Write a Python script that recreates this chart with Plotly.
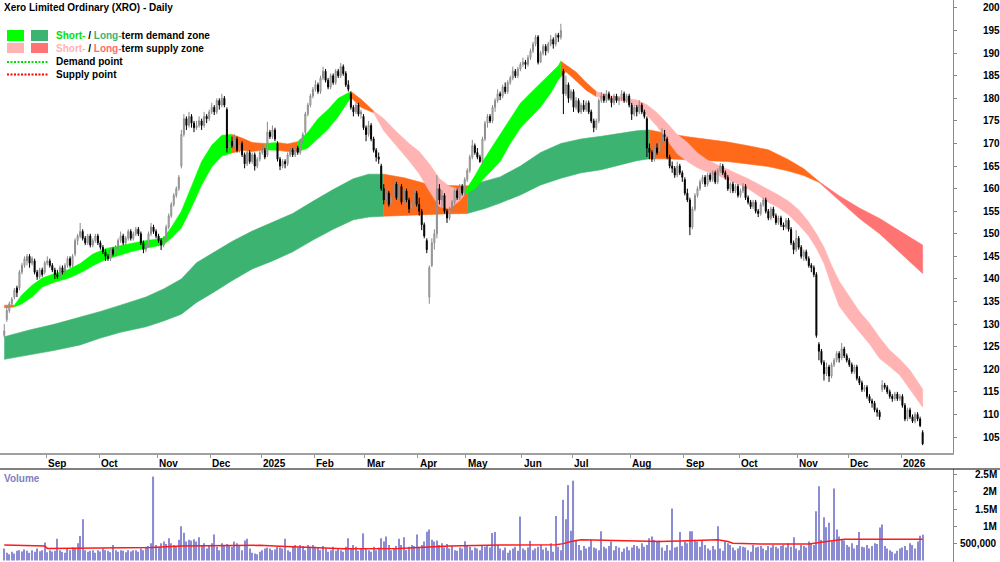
import pandas as pd
import plotly.graph_objects as go

FONT = "Liberation Sans, Arial, sans-serif"
W, H = 1000, 562
R_MARGIN = 47
PW = W - R_MARGIN


def px_x(px):
    return px / PW


def px_y(py):
    return 1 - py / H


TITLE = "Xero Limited Ordinary (XRO) - Daily"

# ---------------- data ----------------
first_session = "2024-08-08"
last_session = "2026-01-14"
asx_holidays = ["2024-12-25", "2024-12-26", "2025-01-01", "2025-01-27", "2025-04-18",
                "2025-04-21", "2025-04-25", "2025-06-09", "2025-12-25", "2025-12-26", "2026-01-01"]

opens = [
    127.5, 131, 133, 134.5, 136, 138, 138, 141.5, 143, 144,
    145, 143.5, 144, 141.5, 140.5, 142, 141.5, 143.5, 144, 143,
    142, 141, 140.5, 142.5, 141.5, 143, 144.5, 143, 145.5, 148.5,
    149.5, 150.5, 149, 148, 149.5, 147.5, 148.5, 149.5, 148, 147,
    146, 145, 144.5, 146.5, 145.5, 147, 148.5, 149.5, 148, 149,
    150.5, 149, 150, 151, 150, 148, 146.5, 147.5, 150, 151.5,
    150.5, 149.5, 148.5, 147.5, 149, 151.5, 154, 156.5, 158.5, 160,
    165, 172, 175.5, 174, 176, 174.5, 173.5, 174, 175, 174,
    176, 175.5, 177, 178, 177, 179.5, 178.5, 180, 177.5, 169,
    170.5, 169.5, 171, 168.5, 170, 167.5, 165.5, 168, 166, 167.5,
    165, 166.5, 168, 168.5, 167.5, 172.5, 171.5, 173, 170, 166.5,
    165, 166, 165.5, 167.5, 168.5, 167.5, 169, 168, 170.5, 172.5,
    176.5, 178.5, 180.5, 182, 183, 181.5, 184.5, 186, 184, 182.5,
    185, 183.5, 186, 185, 187, 185.5, 183, 181, 178, 177,
    178.5, 176.5, 176, 173.5, 172, 174, 171, 168.5, 167, 165,
    160, 157.5, 159, 156.5, 158.5, 161, 158, 160.5, 157, 159.5,
    157.5, 155.5, 157, 159, 156.5, 155, 152, 148.5, 136, 143,
    148, 150, 160, 157.5, 158.5, 155, 153.5, 155.5, 157, 159.5,
    158, 160.5, 159, 162, 164, 167, 169.5, 168, 167, 166,
    171, 174.5, 176, 175, 178, 179.5, 181, 180.5, 182.5, 181.5,
    183.5, 184.5, 186, 185, 186.5, 187.5, 188, 187.5, 189, 190.5,
    192, 193.6, 188, 190, 191.5, 190.5, 192, 193, 192, 194,
    193.5, 186, 181, 183, 180, 181.5, 178, 179.5, 177, 178.5,
    177.5, 179, 177, 175, 173.5, 175, 179.5, 180.5, 179.5, 181,
    180, 179, 180.5, 179.5, 180, 181, 179.5, 180.5, 178.5, 176.5,
    178, 177, 178.5, 177, 175.5, 169, 168, 166.5, 169, 168,
    170.5, 172, 171, 167, 165, 164.5, 163, 165, 163.5, 162,
    159, 157.5, 151.5, 155.5, 158.5, 160, 161.5, 162.5, 161, 163,
    162, 163.5, 161.5, 164, 165, 163.5, 162.5, 160, 161, 159.5,
    160.5, 158.5, 159.5, 160.5, 158, 157, 156, 157, 155, 154.5,
    156.5, 157.5, 155, 153.5, 155.5, 154, 152.5, 153.5, 152, 151.5,
    153, 151, 148, 146.5, 149, 147, 145, 146, 144.5, 143,
    142.5, 141, 125.5, 124, 121.5, 119, 120.5, 118.5, 121, 122,
    123.5, 122.5, 124.5, 123, 122, 121, 119.5, 120.5, 118, 117,
    115.5, 116, 114, 113, 112.5, 111, 110.5, 115.5, 116.5, 116,
    115, 114, 113.5, 114.5, 113.5, 114, 112, 109, 111, 109.5,
    108.5, 110, 109, 106]

highs = [
    130, 134, 135, 136, 138, 138.5, 142, 143.5, 145, 145.5,
    145.5, 145, 144.5, 142, 142.5, 142.5, 144, 145, 144.5, 143.5,
    142.5, 142, 143, 143, 143.5, 145, 145, 145.5, 149, 150,
    152.4, 151, 149.5, 150, 150, 149, 150, 150, 148.5, 147.5,
    146.5, 145.5, 147, 147, 147.5, 149, 150.5, 150, 149.5, 151,
    151, 150.5, 151.5, 151.5, 150.5, 148.5, 148, 150.5, 152.4, 152,
    151, 150, 149, 149.5, 152, 154.5, 157, 159, 160.5, 163,
    173, 176.5, 176, 177, 176.5, 175, 175, 176, 175.5, 177,
    176.5, 177.5, 179, 178.5, 180, 180, 181, 180.5, 178, 171,
    171.5, 172, 171.5, 170.5, 170.5, 168, 168.5, 168.5, 168, 168,
    167, 168.5, 169.5, 169, 174.8, 173, 174, 173.5, 170.5, 167,
    166.5, 166.5, 168, 169, 169, 169.5, 169.5, 171, 172.5, 177,
    179, 181, 182.5, 184, 183.5, 185, 187, 186.5, 184.5, 185.5,
    185.5, 186.5, 186.5, 187.8, 187.5, 186, 184, 181.5, 178.5, 179,
    179, 177.5, 176.5, 174, 175, 174.5, 171.5, 169, 168, 165.5,
    161, 160, 159.5, 159, 162.5, 161.5, 161, 161, 160, 160,
    158, 157.5, 159.7, 159.5, 158, 155.5, 152.5, 149, 143, 149,
    151, 163, 161, 159.7, 159, 155.5, 156, 157.5, 160, 160,
    161, 161, 162.5, 164.5, 167.5, 170.8, 170, 169, 167.5, 171.5,
    175, 176.5, 176.5, 178.5, 180, 182, 181.5, 183, 183.5, 184,
    185, 187, 186.5, 187, 188, 189, 188.5, 189.6, 191, 192.5,
    194, 194, 190.5, 192, 192, 192.5, 194, 193.5, 194.5, 194.5,
    196.5, 186.5, 185, 183.5, 182, 182, 180.3, 180, 179, 179.6,
    179.5, 179.5, 177.5, 175.5, 175.5, 180, 181.4, 181, 181.8, 181.5,
    180.5, 181, 181, 180.5, 181.8, 181.5, 181, 181, 179, 178.5,
    178.5, 179.6, 179, 177.5, 176, 170, 168.5, 169.5, 170, 171,
    173.4, 173, 171.5, 167.5, 166, 165, 166, 165.5, 164, 162.5,
    160, 158, 156, 159, 160.5, 162, 163, 163, 163.5, 163.5,
    164, 164, 164.5, 165.7, 165.5, 164, 163, 161.5, 161.5, 161,
    161, 160, 161.2, 161, 158.5, 157.5, 157.5, 157.5, 155.5, 157,
    158, 158, 155.5, 156, 156, 154.5, 154, 154, 152.5, 153.5,
    153.5, 151.5, 148.5, 150.8, 149.5, 147.5, 146.5, 146.5, 145, 143.5,
    143, 141.5, 126, 124.5, 122, 121.5, 121, 121.5, 122.5, 124,
    124, 125.8, 125, 123.5, 122.5, 121.5, 121, 121, 118.5, 117.5,
    116.5, 116.5, 114.5, 113.5, 113, 111.5, 111, 117.6, 117, 116.5,
    115.5, 114.5, 115, 115, 114.5, 114.5, 112.5, 111.5, 111.5, 110,
    110.5, 110.5, 109.5, 106.5]

lows = [
    127, 130.5, 132.5, 134, 135.5, 136, 137.5, 141, 142.5, 143,
    142.5, 143, 141, 139.8, 140, 140.5, 141, 143, 142.5, 141.5,
    140, 140, 140, 141, 141, 142.5, 142.5, 142.5, 145, 147.5,
    149, 148.5, 147.5, 147.5, 147, 147, 148, 147.5, 146.5, 145.5,
    144, 144, 144, 145, 145, 146.5, 148, 147.5, 147.5, 148.5,
    148.5, 148.5, 149.5, 149.5, 147.5, 145.7, 146, 147, 149.5, 150,
    149, 148, 146.4, 147, 148.5, 151, 153.5, 156, 158, 159.5,
    164.5, 171.5, 173, 173.5, 173.5, 172.5, 173, 173.5, 173, 173.5,
    174.5, 175, 176.5, 176.3, 176.5, 177.5, 178, 178, 168, 168,
    169, 169, 168, 168, 167, 164.5, 165, 165.5, 165.5, 164,
    164.5, 166, 167.5, 166.5, 167, 171, 171, 170.5, 166, 164.1,
    164.5, 164.5, 165, 167, 167, 167, 167.5, 167.5, 170, 172,
    176, 178, 180, 181.5, 181, 181, 184, 183.5, 182, 182,
    183, 183, 184.5, 184.5, 185, 182.5, 181.5, 177.5, 176, 176.5,
    176, 175.5, 173, 170.5, 171.5, 170.5, 168, 166, 165.5, 159.5,
    156.5, 157, 156, 156, 158, 157.5, 157.5, 156.5, 156.5, 157,
    154.6, 155, 156.5, 156, 154, 150.8, 149, 145.7, 134.5, 142.6,
    146.5, 149, 156.5, 156, 154.5, 152.4, 153, 155, 156.5, 157.5,
    157.5, 158.5, 158.5, 161.5, 163.5, 166.5, 167.5, 166.5, 165.7, 165.5,
    170.5, 173.5, 174.5, 174.5, 177, 179, 179.6, 180, 181, 181,
    183, 184, 184.5, 184.5, 186, 187, 186.5, 187, 188.5, 190,
    191.5, 187.5, 187.8, 189.5, 189.5, 190, 191.5, 191, 191.5, 192.5,
    193, 176.5, 180.5, 179, 179.5, 177, 177.5, 176.7, 176.5, 177,
    177, 176.5, 174.5, 172.5, 173, 174.5, 179, 179, 179, 179.5,
    178, 178.5, 179, 178.5, 179.5, 179, 179, 178, 175.2, 176,
    176, 176.5, 176.5, 175.5, 167, 166.5, 165.9, 166, 167.5, 167.5,
    170, 170.5, 166.5, 164.5, 163.5, 162.4, 162.5, 163, 161.5, 158.5,
    157, 149.7, 151, 155, 158, 159.5, 161, 160.4, 160.5, 161.5,
    161.5, 161, 161, 163.5, 163, 162, 159.5, 159, 159, 159,
    158, 158, 159, 157.5, 156.5, 155.5, 155.5, 154.5, 153.7, 154,
    156, 154.5, 153, 153, 153.5, 152, 152, 151.5, 150.8, 151,
    150.5, 147.5, 145.5, 146, 146.5, 144.5, 144, 144, 142.5, 141.5,
    140.4, 127, 122, 121, 117.5, 118.5, 117.2, 118, 120.5, 121.5,
    121.5, 122, 122.5, 121.5, 120.5, 119, 119, 117.5, 116.5, 115,
    115, 113.5, 112.5, 111.5, 110.5, 109.5, 108.8, 115, 115.5, 114.5,
    113.5, 112.8, 113, 113, 113, 111.5, 108.5, 108.5, 109, 108.1,
    108, 108.5, 107.2, 103.2]

closes = [
    128.5, 133, 134.5, 135.5, 137.5, 137, 141.5, 143, 144.5, 145,
    143.5, 144.5, 141.5, 140.5, 142, 141, 143.5, 144, 143, 142,
    141, 140.5, 142.5, 141.5, 143, 144.5, 143, 145, 148.5, 149.5,
    150.5, 149, 148, 149.5, 147.5, 148.5, 149.5, 148, 147, 146,
    145, 144.5, 146.5, 145.5, 147, 148.5, 149.5, 148, 149, 150.5,
    149, 150, 151, 150, 148, 146.5, 147.5, 150, 151.5, 150.5,
    149.5, 148.5, 147.5, 149, 151.5, 154, 156.5, 158.5, 160, 162.5,
    172, 175.5, 174, 176, 174.5, 173.5, 174, 175, 174, 176,
    175.5, 177, 178, 177, 179.5, 178.5, 180, 178.5, 169, 170.5,
    169.5, 171, 168.5, 170, 167.5, 165.5, 168, 166, 167.5, 165,
    166.5, 168, 168.5, 167, 172.5, 171.5, 173, 171, 166.5, 165,
    166, 165.5, 167.5, 168.5, 167.5, 169, 168, 170.5, 172, 176.5,
    178.5, 180.5, 182, 183, 181.5, 184.5, 186, 184, 182.5, 185,
    183.5, 186, 185, 187, 185.5, 183, 182, 178, 177, 178.5,
    176.5, 177, 173.5, 172, 174, 171, 168.5, 167, 166.5, 160,
    157.5, 159, 156.5, 158.5, 161, 158, 160.5, 157, 159.5, 157.5,
    155.5, 157, 159, 156.5, 155, 152, 149.5, 146.5, 142.5, 148,
    150, 160, 157.5, 158.5, 155, 153.5, 155.5, 157, 159.5, 158,
    160.5, 159, 162, 164, 167, 169.5, 168, 167, 166, 171,
    174.5, 176, 175, 178, 179.5, 181, 180.5, 182.5, 181.5, 183.5,
    184.5, 186, 185, 186.5, 187.5, 188, 187.5, 189, 190.5, 192,
    193.5, 188, 190, 191.5, 190.5, 192, 193, 192, 194, 193.5,
    195, 181, 183, 180, 181.5, 178, 179.5, 177, 178.5, 177.5,
    179, 177, 175, 173.5, 175, 179.5, 180.5, 179.5, 181, 180,
    179, 180.5, 179.5, 180, 181, 179.5, 180.5, 178.5, 176.5, 178,
    177, 178.5, 177, 176, 169, 168, 166.5, 169, 168, 170.5,
    172, 171.5, 167, 165, 164.5, 163, 165, 163.5, 162.5, 159,
    157.5, 151.5, 155.5, 158.5, 160, 161.5, 162.5, 161, 163, 162,
    163.5, 161.5, 164, 165, 163.5, 162.5, 160, 161, 159.5, 160.5,
    158.5, 159.5, 160.5, 158, 157, 156, 157, 155, 154.5, 156.5,
    157.5, 155, 153.5, 155.5, 154, 152.5, 153.5, 152, 151.5, 153,
    151, 148, 146.5, 149, 147, 145, 146, 144.5, 143, 142.5,
    141, 127.5, 124, 121.5, 119, 120.5, 118.5, 121, 122, 123.5,
    122.5, 124.5, 123, 122, 121, 119.5, 120.5, 118, 117, 115.5,
    116, 114, 113, 112.5, 111, 110.5, 109.5, 116.5, 116, 115,
    114, 113.5, 114.5, 113.5, 114, 112, 109, 111, 109.5, 108.5,
    110, 109, 107.5, 103.5]

volume_m = [
    .35, .22, .18, .25, .2, .28, .3, .26, .32, .28,
    .22, .3, .25, .35, .27, .3, .52, .24, .3, .26,
    .28, .63, .3, .25, .22, .35, .3, .38, .33, .5,
    .71, 1.2, .3, .25, .28, .3, .22, .3, .26, .35,
    .3, .28, .24, .45, .3, .25, .3, .28, .24, .3,
    .26, .3, .3, .25, .35, .3, .4, .42, .5, 2.45,
    .45, .4, .5, .55, .48, .65, .5, .45, .42, .6,
    1.0, .81, .55, .6, .58, .62, .55, .68, .45, .5,
    .35, .42, .5, .76, .4, .3, .5, .42, .48, .45,
    .4, .55, .5, .45, .3, .58, .63, .35, .22, .2,
    .18, .25, .3, .35, .38, .35, .3, .32, .4, .38,
    .35, .63, .3, .25, .4, .45, .38, .45, .42, .3,
    .45, .4, .45, .4, .38, .3, .42, .35, .25, .3,
    .4, .28, .35, .3, .25, .4, .65, .35, .45, .4,
    .28, .35, .79, .35, .3, .25, .4, .3, .38, .65,
    .55, .7, .45, .3, .35, .42, .63, .45, .68, .3,
    .4, .45, .42, .76, .4, .45, .55, .84, .9, .6,
    .55, .58, .45, .5, .38, .48, .35, .42, .3, .28,
    .38, .35, .56, .45, .4, .3, .38, .35, .3, .45,
    .4, .42, .38, .8, .83, .45, .35, .3, .38, .22,
    .3, .35, .4, .28, 1.28, .35, .3, .38, .57, .3,
    .35, .4, .45, .32, .38, .28, .5, .25, 1.3, .4,
    .3, 1.77, 1.2, 2.2, .87, 2.33, .6, .45, .3, .42,
    .35, .4, .6, .38, .35, .3, .85, .4, .35, .42,
    .55, .3, .42, .38, .25, .35, .4, .3, .38, .45,
    .42, .35, .5, .4, .45, .65, .7, .6, .55, .58,
    .38, .28, .45, .3, 1.52, .38, .4, .83, .42, .55,
    .5, .85, .85, .6, .55, .4, .58, .45, .35, .3,
    .42, .32, 1.0, .35, .28, .55, .5, .45, .38, .3,
    .35, .42, .4, .38, .3, .25, .45, .38, .4, .42,
    .35, .3, .42, .38, .45, .4, .35, .42, .45, .38,
    .5, .4, .68, .35, .3, .45, .42, .38, .55, .5,
    .45, 1.44, 2.17, .6, 1.26, .97, 1.1, .55, 2.1, .9,
    .7, .6, .58, .45, .4, .5, .35, .45, .83, .4,
    .38, .45, .35, .42, .5, .48, .96, 1.05, .42, .35,
    .3, .25, .2, .28, .35, .38, .42, .3, .5, .45,
    .35, .55, .72, .75]

# volume moving average (session number, millions)
vol_avg_session = [0, 14, 16, 17, 38, 58, 70, 89, 101, 109,
                   121, 130, 134, 156, 164, 176, 196, 218, 221, 224,
                   228, 243, 259, 267, 282, 286, 288, 299, 318, 328,
                   332, 363]
vol_avg_m = [0.45, 0.43, 0.42, 0.35, 0.36, 0.38, 0.42, 0.44, 0.44, 0.41,
             0.38, 0.37, 0.34, 0.35, 0.38, 0.42, 0.45, 0.46, 0.49, 0.55,
             0.6, 0.57, 0.55, 0.57, 0.6, 0.55, 0.5, 0.48, 0.48, 0.58,
             0.62, 0.62]

# short-term zone (session number, upper edge, lower edge, state D/T/S)
short_session = [0, 4, 7, 11, 15, 20, 25, 30, 35, 40,
                 45, 50, 55, 60, 63, 66, 70, 74, 78, 82,
                 86, 90, 94, 98, 103, 108, 112, 116, 120, 124,
                 128, 132, 137, 141, 146, 150, 155, 160, 164, 168,
                 172, 176, 180, 182, 186, 190, 196, 200, 204, 208,
                 212, 216, 219, 220, 222, 226, 230, 234, 238, 242,
                 246, 250, 254, 258, 262, 266, 270, 274, 278, 282,
                 286, 290, 294, 298, 302, 306, 310, 314, 318, 321,
                 324, 327, 330, 334, 338, 342, 346, 350, 354, 358,
                 363]
short_upper = [134.2, 134.2, 136.5, 138.6, 140.2, 141.2, 142, 143.4, 145.5, 146.7,
               147.3, 147.9, 148.4, 148.8, 149.1, 151.4, 155, 160.5, 166, 169.6,
               171.8, 172, 171.2, 170.2, 170, 170.2, 169.9, 170.4, 172.5, 175.5,
               177.5, 180, 181.5, 179.8, 177.2, 175.5, 172.6, 170, 168.2, 165.5,
               162.2, 160.5, 159.8, 159.3, 162.8, 166.8, 172, 175.5, 178.9, 181.2,
               183.3, 185.4, 187.2, 188.2, 187.4, 185.8, 183.5, 181.5, 180.8, 180.3,
               180, 179.6, 178.6, 176.8, 174.5, 172, 170.2, 167.9, 166.3, 165.3,
               164.2, 163.3, 162.2, 161, 159.8, 158.6, 157.2, 155.3, 152.6, 150,
               147, 143, 139.5, 136, 132.8, 130.2, 127, 124.2, 122.2, 119.8,
               115.6]
short_lower = [133.6, 133.8, 134.5, 136, 138.2, 139.3, 140.1, 141.3, 142.9, 144.3,
               145.1, 146, 146.7, 147.3, 147.6, 149, 151.3, 155.8, 160.8, 164.8,
               167.2, 167.9, 168.5, 168.2, 168.6, 168.5, 168.2, 168.2, 169, 171,
               173.2, 176, 180.2, 178, 176.8, 172.8, 169.6, 166.2, 163.3, 159.5,
               156, 155.6, 157.3, 158.7, 160, 162.5, 166, 170, 173.4, 175.7,
               178.1, 181.2, 184.1, 184.8, 185.9, 183.9, 181.8, 180.4, 179.8, 179.5,
               179.3, 178.2, 176.3, 173.8, 170.8, 167.7, 166, 164.6, 163.7, 163,
               161.9, 161, 160, 158.5, 157, 155.8, 154.2, 152, 149.5, 146.8,
               143.5, 138.5, 134, 131, 128.2, 125.6, 122.4, 120.6, 118.7, 115.4,
               111.6]
short_state = ("T"
               "DDDDDDDDDDDDDDDDDDDD"
               "TTT" "D" "TT" "DDDDD" "TT"
               "SSSSSSSSS"
               "DDDDDDDDDD"
               "TTTT"
               "SSSSSSSSSSSSSSSSSSSSSSSSSSSSSSSSSS")

# long-term zone
long_session = [0, 10, 20, 30, 38, 46, 56, 63, 70, 76,
                82, 90, 98, 106, 114, 122, 130, 138, 144, 150,
                158, 166, 174, 183, 190, 196, 204, 212, 220, 228,
                236, 244, 250, 255, 262, 270, 278, 286, 294, 302,
                310, 316, 322, 330, 338, 346, 354, 363]
long_upper = [127.2, 128.7, 130, 131.5, 132.8, 134.2, 136, 137.8, 140, 143.6,
              145.6, 148.3, 150.6, 152.5, 154.5, 157.2, 159.8, 162.2, 163.2, 163.2,
              162.4, 161.2, 160.7, 160.6, 161.6, 162.6, 165, 168, 170, 171,
              171.6, 172.3, 172.8, 173, 172.2, 171.5, 170.9, 170.3, 169.5, 168.6,
              166.4, 164.4, 161.6, 158.4, 155.7, 153.4, 150.6, 147.5]
long_lower = [122.2, 123.2, 124.2, 125.4, 126.9, 128.2, 129.4, 130.7, 132.2, 134.8,
              136.8, 139.6, 142.2, 144, 146, 148.6, 151, 153.1, 153.7, 153.9,
              154.1, 154.2, 154.4, 154.5, 155.6, 156.8, 158.6, 160.8, 162.3, 163.5,
              164.2, 165.3, 166.2, 166.6, 166.6, 166.4, 166.2, 166, 165.5, 164.9,
              163.9, 162.9, 161.4, 157.3, 153.4, 150, 145.8, 141.2]
long_state = ("DDDDDDDDDDDDDDDDDDD"
              "TTTT"
              "DDDDDDDDDD"
              "TTTTTTTTT"
              "SSSSSS")

price_ticks = [105, 110, 115, 120, 125, 130, 135, 140, 145, 150,
               155, 160, 165, 170, 175, 180, 185, 190, 195, 200]
vol_tick_vals = [0.5, 1, 1.5, 2, 2.5]
vol_tick_text = ["500,000", "1M", "1.5M", "2M", "2.5M"]

# ---------------- styles ----------------
SHORT_COL = {"D": "#00FF00", "T": "#FF6A1A", "S": "#FFB3B3"}
LONG_COL = {"D": "#3CB371", "T": "#FF6A1A", "S": "#FF7373"}
VOL_COL = "#8C8CD4"

days = pd.bdate_range(first_session, last_session)
days = days[~days.isin(pd.to_datetime(asx_holidays))]
n = min(len(days), len(closes), len(opens), len(highs), len(lows), len(volume_m))
x = list(range(n))

month_pos, month_lbl = [], []
for i in range(1, n):
    if days[i].month != days[i - 1].month:
        month_pos.append(i - 0.5)
        month_lbl.append(str(days[i].year) if days[i].month == 1 else days[i].strftime("%b"))

X0_PX, STEP_PX = 4.26, 2.53
x_range = [(0 - X0_PX) / STEP_PX, (PW - X0_PX) / STEP_PX]
y_range = [101.46, 201.77]
v_range = [-0.047, 2.672]
PRICE_BOTTOM_PX = 453
VOL_TOP_PX = 469

fig = go.Figure()


def add_zone(sess, upper, lower, states, palette):
    m = min(len(sess), len(upper), len(lower))
    a = 0
    while a < m - 1:
        b = a
        while b + 1 < m - 1 and states[b + 1] == states[a]:
            b += 1
        xs = list(sess[a:b + 2]) + list(sess[a:b + 2])[::-1]
        ys = list(upper[a:b + 2]) + list(lower[a:b + 2])[::-1]
        col = palette[states[a]]
        fig.add_trace(go.Scatter(x=xs, y=ys, mode="lines", fill="toself", fillcolor=col,
                                 line=dict(width=0.6, color=col), hoverinfo="skip",
                                 showlegend=False, xaxis="x", yaxis="y"))
        a = b + 1


add_zone(long_session, long_upper, long_lower, long_state, LONG_COL)
add_zone(short_session, short_upper, short_lower, short_state, SHORT_COL)

fig.add_trace(go.Candlestick(
    x=x, open=opens[:n], high=highs[:n], low=lows[:n], close=closes[:n],
    increasing=dict(line=dict(color="#8a8a8a", width=1), fillcolor="#e6e6e6"),
    decreasing=dict(line=dict(color="#000000", width=1), fillcolor="#000000"),
    whiskerwidth=0, showlegend=False, xaxis="x", yaxis="y3"))

fig.add_trace(go.Bar(x=x, y=volume_m[:n], width=0.45, marker=dict(color=VOL_COL, line=dict(width=0)),
                     showlegend=False, hoverinfo="skip", xaxis="x2", yaxis="y2"))
fig.add_trace(go.Scatter(x=vol_avg_session, y=vol_avg_m, mode="lines",
                         line=dict(color="#FF1A1A", width=1.5), hoverinfo="skip",
                         showlegend=False, xaxis="x2", yaxis="y2"))

annotations = []
annotations.append(dict(xref="paper", yref="paper", x=px_x(2), y=px_y(8), xanchor="left", yanchor="middle",
                        text="<b>" + TITLE + "</b>", showarrow=False, font=dict(family=FONT, size=10, color="black")))
for pos, lbl in zip(month_pos, month_lbl):
    annotations.append(dict(xref="x", yref="paper", x=pos, y=px_y(463), xanchor="left", yanchor="middle",
                            xshift=0, text="<b>" + lbl + "</b>", showarrow=False,
                            font=dict(family=FONT, size=10, color="black")))
for v, t in zip(vol_tick_vals, vol_tick_text):
    annotations.append(dict(xref="paper", yref="y2", x=px_x(999), y=v, xanchor="right", yanchor="middle",
                            text="<b>" + t + "</b>", showarrow=False,
                            font=dict(family=FONT, size=10, color="black")))
annotations.append(dict(xref="paper", yref="paper", x=px_x(2), y=px_y(478), xanchor="left", yanchor="middle",
                        text="<b>Volume</b>", showarrow=False, font=dict(family=FONT, size=10, color="#8080C0")))
leg_rows = [
    (35.5, '<b><span style="color:#00E000">Short-</span> / <span style="color:#3CB371">Long-</span>term demand zone</b>'),
    (48.5, '<b><span style="color:#FFB3B3">Short-</span> / <span style="color:#FF6A6A">Long-</span>term supply zone</b>'),
    (62, "<b>Demand point</b>"),
    (75, "<b>Supply point</b>"),
]
for yy, txt in leg_rows:
    annotations.append(dict(xref="paper", yref="paper", x=px_x(54), y=px_y(yy), xanchor="left", yanchor="middle",
                            text=txt, showarrow=False, font=dict(family=FONT, size=10, color="black")))

shapes = []


def rect(x0, y0, x1, y1, col):
    shapes.append(dict(type="rect", xref="paper", yref="paper", x0=px_x(x0), x1=px_x(x1),
                       y0=px_y(y0), y1=px_y(y1), fillcolor=col, line=dict(width=0)))


rect(7, 30, 24, 41, "#00FF00")
rect(31, 30, 48, 41, "#3CB371")
rect(7, 43, 24, 53, "#FFB3B3")
rect(31, 43, 48, 53, "#FF7373")
shapes.append(dict(type="line", xref="paper", yref="paper", x0=px_x(7), x1=px_x(48), y0=px_y(62), y1=px_y(62),
                   line=dict(color="#00E000", width=2, dash="2px,1.5px")))
shapes.append(dict(type="line", xref="paper", yref="paper", x0=px_x(7), x1=px_x(48), y0=px_y(74.5), y1=px_y(74.5),
                   line=dict(color="#FF0000", width=2, dash="2px,1.5px")))
shapes.append(dict(type="line", xref="paper", yref="paper", x0=0, x1=px_x(W), y0=px_y(VOL_TOP_PX),
                   y1=px_y(VOL_TOP_PX), line=dict(color="#000000", width=1)))

fig.update_layout(
    width=W, height=H, margin=dict(l=0, r=R_MARGIN, t=0, b=0, pad=0),
    paper_bgcolor="white", plot_bgcolor="white", showlegend=False,
    font=dict(family=FONT, size=10, color="black"),
    boxgap=0.45,
    xaxis=dict(domain=[0, 1], range=x_range, anchor="y", tickmode="array", tickvals=month_pos,
               showticklabels=False, ticks="outside", ticklen=3, tickcolor="#999999",
               showline=True, linecolor="#A0A0A0", linewidth=2, showgrid=False, zeroline=False,
               rangeslider=dict(visible=False), fixedrange=True),
    yaxis=dict(domain=[px_y(PRICE_BOTTOM_PX), 1], range=y_range, side="right", anchor="x",
               tickmode="array", tickvals=price_ticks, ticks="outside", ticklen=3, tickcolor="#888888",
               showline=True, linecolor="#888888", linewidth=1, showgrid=False, zeroline=False,
               tickfont=dict(family=FONT, size=10, color="black", weight="bold"),
               ticklabelstandoff=24, fixedrange=True),
    yaxis3=dict(overlaying="y", range=y_range, anchor="x", visible=False, fixedrange=True),
    xaxis2=dict(domain=[0, 1], range=x_range, anchor="y2", showticklabels=False, ticks="",
                showline=False, showgrid=False, zeroline=False, fixedrange=True),
    yaxis2=dict(domain=[0, px_y(VOL_TOP_PX)], range=v_range, side="right", anchor="x2",
                tickmode="array", tickvals=vol_tick_vals, showticklabels=False, ticks="outside",
                ticklen=3, tickcolor="#888888", showline=True, linecolor="#888888", linewidth=1,
                showgrid=False, zeroline=False, fixedrange=True),
    annotations=annotations, shapes=shapes,
)

fig.write_html("out.html", config={"displayModeBar": False})
